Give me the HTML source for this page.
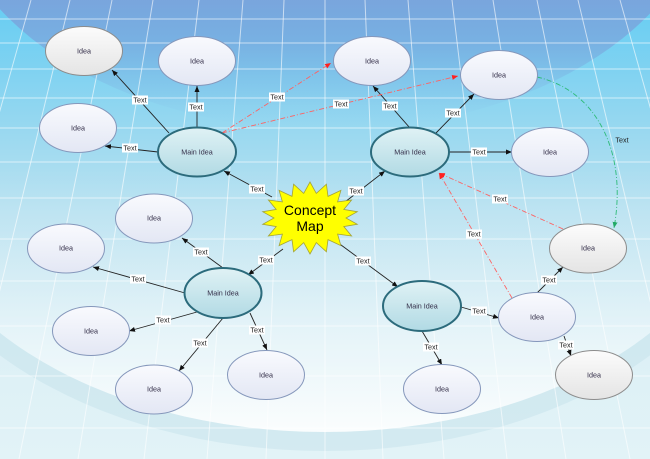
<!DOCTYPE html>
<html><head><meta charset="utf-8"><style>
html,body{margin:0;padding:0;background:#e2f2f7;}
svg{display:block;}
text{font-family:"Liberation Sans",Arial,sans-serif;}
</style></head><body>
<svg width="650" height="459" viewBox="0 0 650 459" xmlns="http://www.w3.org/2000/svg">
<defs>
<linearGradient id="bg" x1="0" y1="0" x2="0" y2="459" gradientUnits="userSpaceOnUse">
<stop offset="0" stop-color="#66cdf3"/>
<stop offset="0.15" stop-color="#7fd2f1"/>
<stop offset="0.3" stop-color="#9cd9f0"/>
<stop offset="0.45" stop-color="#b9e2f1"/>
<stop offset="0.6" stop-color="#d1ebf4"/>
<stop offset="0.75" stop-color="#dcf0f6"/>
<stop offset="1" stop-color="#e2f3f7"/>
</linearGradient>
<linearGradient id="topg" x1="0" y1="0" x2="0" y2="125" gradientUnits="userSpaceOnUse">
<stop offset="0" stop-color="#7aa4dc" stop-opacity="0.97"/>
<stop offset="0.35" stop-color="#7aa4dc" stop-opacity="0.7"/>
<stop offset="0.6" stop-color="#7aa4dc" stop-opacity="0.33"/>
<stop offset="0.85" stop-color="#7aa4dc" stop-opacity="0.08"/>
<stop offset="1" stop-color="#7aa4dc" stop-opacity="0"/>
</linearGradient>
<linearGradient id="bowl" x1="0" y1="162" x2="0" y2="432" gradientUnits="userSpaceOnUse">
<stop offset="0" stop-color="#ffffff" stop-opacity="0"/>
<stop offset="0.45" stop-color="#ffffff" stop-opacity="0.1"/>
<stop offset="0.75" stop-color="#ffffff" stop-opacity="0.45"/>
<stop offset="1" stop-color="#ffffff" stop-opacity="0.85"/>
</linearGradient>
<linearGradient id="mainF" x1="0" y1="0" x2="0" y2="1">
<stop offset="0" stop-color="#e0f2f5"/>
<stop offset="1" stop-color="#b1dae4"/>
</linearGradient>
<linearGradient id="ideaF" x1="0" y1="0" x2="0" y2="1">
<stop offset="0" stop-color="#f9fafe"/>
<stop offset="1" stop-color="#e3e7f4"/>
</linearGradient>
<linearGradient id="grayF" x1="0" y1="0" x2="0" y2="1">
<stop offset="0" stop-color="#fcfcfc"/>
<stop offset="1" stop-color="#e4e4e4"/>
</linearGradient>
<marker id="ab" viewBox="0 0 6 5" refX="6" refY="2.5" markerWidth="6" markerHeight="5" markerUnits="userSpaceOnUse" orient="auto"><path d="M0,0 L6,2.5 L0,5 z" fill="#111"/></marker>
<marker id="ar" viewBox="0 0 6 5" refX="6" refY="2.5" markerWidth="6" markerHeight="5" markerUnits="userSpaceOnUse" orient="auto"><path d="M0,0 L6,2.5 L0,5 z" fill="#ff2020"/></marker>
<marker id="ag" viewBox="0 0 6 5" refX="6" refY="2.5" markerWidth="6" markerHeight="5" markerUnits="userSpaceOnUse" orient="auto"><path d="M0,0 L6,2.5 L0,5 z" fill="#22aa66"/></marker>
</defs>

<!-- background -->
<rect x="0" y="0" width="650" height="459" fill="url(#bg)"/>
<ellipse cx="327" cy="-120" rx="382" ry="250" fill="url(#topg)"/>
<ellipse cx="325" cy="162" rx="420" ry="270" fill="url(#bowl)"/>
<path fill-rule="evenodd" fill="#bcdde8" fill-opacity="0.38" d="M-110,166 a435,285 0 1,0 870,0 a435,285 0 1,0 -870,0 Z M-95,162 a420,270 0 1,0 840,0 a420,270 0 1,0 -840,0 Z"/>

<!-- grid -->
<g stroke="#ffffff" stroke-opacity="0.6" stroke-width="1" fill="none">
<line x1="0" y1="19" x2="650" y2="19"/>
<line x1="0" y1="43" x2="650" y2="43"/>
<line x1="0" y1="69" x2="650" y2="69"/>
<line x1="0" y1="98" x2="650" y2="98"/>
<line x1="0" y1="128" x2="650" y2="128"/>
<line x1="0" y1="162" x2="650" y2="162"/>
<line x1="0" y1="198" x2="650" y2="198"/>
<line x1="0" y1="239" x2="650" y2="239"/>
<line x1="0" y1="281" x2="650" y2="281"/>
<line x1="0" y1="326" x2="650" y2="326"/>
<line x1="0" y1="376" x2="650" y2="376"/>
<line x1="0" y1="428" x2="650" y2="428"/>
<line x1="31" y1="0" x2="-98" y2="459"/>
<line x1="70" y1="0" x2="-41" y2="459"/>
<line x1="112" y1="0" x2="19" y2="459"/>
<line x1="153" y1="0" x2="78" y2="459"/>
<line x1="199" y1="0" x2="144" y2="459"/>
<line x1="243" y1="0" x2="207" y2="459"/>
<line x1="284" y1="0" x2="266" y2="459"/>
<line x1="325" y1="0" x2="325" y2="459"/>
<line x1="365" y1="0" x2="383" y2="459"/>
<line x1="408" y1="0" x2="444" y2="459"/>
<line x1="452" y1="0" x2="507" y2="459"/>
<line x1="493" y1="0" x2="566" y2="459"/>
<line x1="537" y1="0" x2="630" y2="459"/>
<line x1="578" y1="0" x2="688" y2="459"/>
<line x1="620" y1="0" x2="749" y2="459"/>
</g>

<!-- solid connectors -->
<g stroke="#222" stroke-width="0.9" fill="none" marker-end="url(#ab)">
<line x1="169" y1="133" x2="112" y2="70"/>
<line x1="197" y1="128" x2="197" y2="86"/>
<line x1="158" y1="152" x2="105" y2="146"/>
<line x1="272" y1="197" x2="224" y2="171"/>
<line x1="410" y1="128" x2="373" y2="86"/>
<line x1="436" y1="133" x2="474" y2="94"/>
<line x1="449" y1="152" x2="512" y2="152"/>
<line x1="345" y1="202" x2="385" y2="171"/>
<line x1="223" y1="268" x2="182" y2="238"/>
<line x1="283" y1="249" x2="248" y2="275"/>
<line x1="185" y1="293" x2="93" y2="267"/>
<line x1="197" y1="312" x2="129" y2="331"/>
<line x1="223" y1="318" x2="179" y2="371"/>
<line x1="250" y1="313" x2="267" y2="350"/>
<line x1="337" y1="242" x2="398" y2="287"/>
<line x1="461" y1="307" x2="499" y2="318"/>
<line x1="422" y1="331" x2="442" y2="365"/>
<line x1="537" y1="293" x2="563" y2="267"/>
<line x1="564" y1="336" x2="571" y2="356"/>
</g>

<!-- red dash-dot connectors -->
<g stroke="#ff6262" stroke-width="0.9" fill="none" stroke-dasharray="5 2 1 2" marker-end="url(#ar)">
<line x1="222" y1="133" x2="331" y2="63"/>
<line x1="222" y1="133" x2="458" y2="76"/>
<line x1="563" y1="229" x2="439" y2="173"/>
<line x1="512" y1="298" x2="439" y2="173"/>
</g>

<!-- green curve -->
<path d="M537,77 C595,90 628,150 614,228" stroke="#2fbb78" stroke-width="0.9" fill="none" stroke-dasharray="5 2 1 2" marker-end="url(#ag)"/>

<!-- labels -->
<g font-size="7.2" fill="#222" text-anchor="middle">
<g fill="#fff">
<rect x="132" y="95.5" width="16" height="9"/>
<rect x="188" y="102.5" width="16" height="9"/>
<rect x="122" y="143.5" width="16" height="9"/>
<rect x="249" y="184.5" width="16" height="9"/>
<rect x="269" y="92.5" width="16" height="9"/>
<rect x="333" y="99.5" width="16" height="9"/>
<rect x="382" y="101.5" width="16" height="9"/>
<rect x="445" y="108.5" width="16" height="9"/>
<rect x="471" y="147.5" width="16" height="9"/>
<rect x="348" y="186.5" width="16" height="9"/>
<rect x="492" y="194.5" width="16" height="9"/>
<rect x="193" y="247.5" width="16" height="9"/>
<rect x="258" y="255.5" width="16" height="9"/>
<rect x="130" y="274.5" width="16" height="9"/>
<rect x="155" y="315.5" width="16" height="9"/>
<rect x="192" y="338.5" width="16" height="9"/>
<rect x="249" y="325.5" width="16" height="9"/>
<rect x="466" y="229.5" width="16" height="9"/>
<rect x="355" y="256.5" width="16" height="9"/>
<rect x="471" y="306.5" width="16" height="9"/>
<rect x="423" y="342.5" width="16" height="9"/>
<rect x="541" y="275.5" width="16" height="9"/>
<rect x="558" y="340.5" width="16" height="9"/>
</g>
<text x="140" y="102.5">Text</text>
<text x="196" y="109.5">Text</text>
<text x="130" y="150.5">Text</text>
<text x="257" y="191.5">Text</text>
<text x="277" y="99.5">Text</text>
<text x="341" y="106.5">Text</text>
<text x="390" y="108.5">Text</text>
<text x="453" y="115.5">Text</text>
<text x="479" y="154.5">Text</text>
<text x="356" y="193.5">Text</text>
<text x="500" y="201.5">Text</text>
<text x="201" y="254.5">Text</text>
<text x="266" y="262.5">Text</text>
<text x="138" y="281.5">Text</text>
<text x="163" y="322.5">Text</text>
<text x="200" y="345.5">Text</text>
<text x="257" y="332.5">Text</text>
<text x="474" y="236.5">Text</text>
<text x="363" y="263.5">Text</text>
<text x="479" y="313.5">Text</text>
<text x="431" y="349.5">Text</text>
<text x="549" y="282.5">Text</text>
<text x="566" y="347.5">Text</text>
<text x="622" y="142.5">Text</text>
</g>

<!-- main idea nodes -->
<g fill="url(#mainF)" stroke="#2c6b7c" stroke-width="2">
<ellipse cx="197" cy="152" rx="39" ry="24.5"/>
<ellipse cx="410" cy="152" rx="39" ry="24.5"/>
<ellipse cx="223" cy="293" rx="38.5" ry="25"/>
<ellipse cx="422" cy="306" rx="39" ry="25"/>
</g>

<!-- idea nodes -->
<g fill="url(#ideaF)" stroke="#8597bb" stroke-width="1">
<ellipse cx="197" cy="61" rx="38.5" ry="24.5"/>
<ellipse cx="78" cy="128" rx="38.5" ry="24.5"/>
<ellipse cx="372" cy="61" rx="38.5" ry="24.5"/>
<ellipse cx="499" cy="75" rx="38.5" ry="24.5"/>
<ellipse cx="550" cy="152" rx="38.5" ry="24.5"/>
<ellipse cx="537" cy="317" rx="38.5" ry="24.5"/>
<ellipse cx="442" cy="389" rx="38.5" ry="24.5"/>
<ellipse cx="154" cy="218.5" rx="38.5" ry="24.5"/>
<ellipse cx="66" cy="248.5" rx="38.5" ry="24.5"/>
<ellipse cx="91" cy="331" rx="38.5" ry="24.5"/>
<ellipse cx="154" cy="389.5" rx="38.5" ry="24.5"/>
<ellipse cx="266" cy="375" rx="38.5" ry="24.5"/>
</g>
<g fill="url(#grayF)" stroke="#8c8c8c" stroke-width="1">
<ellipse cx="84" cy="51" rx="38.5" ry="24.5"/>
<ellipse cx="588" cy="248.5" rx="38.5" ry="24.5"/>
<ellipse cx="594" cy="375" rx="38.5" ry="24.5"/>
</g>

<!-- node text -->
<g font-size="7.2" fill="#35304a" text-anchor="middle">
<text x="197" y="154.5">Main Idea</text>
<text x="410" y="154.5">Main Idea</text>
<text x="223" y="295.5">Main Idea</text>
<text x="422" y="308.5">Main Idea</text>
<text x="84" y="53.5">Idea</text>
<text x="197" y="63.5">Idea</text>
<text x="78" y="130.5">Idea</text>
<text x="372" y="63.5">Idea</text>
<text x="499" y="77.5">Idea</text>
<text x="550" y="154.5">Idea</text>
<text x="588" y="250.5">Idea</text>
<text x="537" y="319.5">Idea</text>
<text x="594" y="377.5">Idea</text>
<text x="442" y="391.5">Idea</text>
<text x="154" y="220.5">Idea</text>
<text x="66" y="250.5">Idea</text>
<text x="91" y="333.5">Idea</text>
<text x="154" y="391.5">Idea</text>
<text x="266" y="377.5">Idea</text>
</g>

<!-- concept map star -->
<polygon fill="#ffff00" stroke="#a3a33a" stroke-width="0.8" points="310,182 316.3,193.4 326.4,184.2 328,196.35 340.9,190.4 337.6,201.9 351.6,200 343.8,209.45 357.3,211.7 346,218 357.3,224.3 343.8,226.55 351.6,236 337.6,234.1 340.9,245.6 328,239.65 326.4,251.8 316.3,242.6 310,254 303.7,242.6 293.6,251.8 292,239.65 279.1,245.6 282.4,234.1 268.4,236 276.2,226.55 262.7,224.3 274,218 262.7,211.7 276.2,209.45 268.4,200 282.4,201.9 279.1,190.4 292,196.35 293.6,184.2 303.7,193.4"/>
<g font-size="14" fill="#000" text-anchor="middle">
<text x="310" y="215">Concept</text>
<text x="310" y="231">Map</text>
</g>
</svg>
</body></html>
